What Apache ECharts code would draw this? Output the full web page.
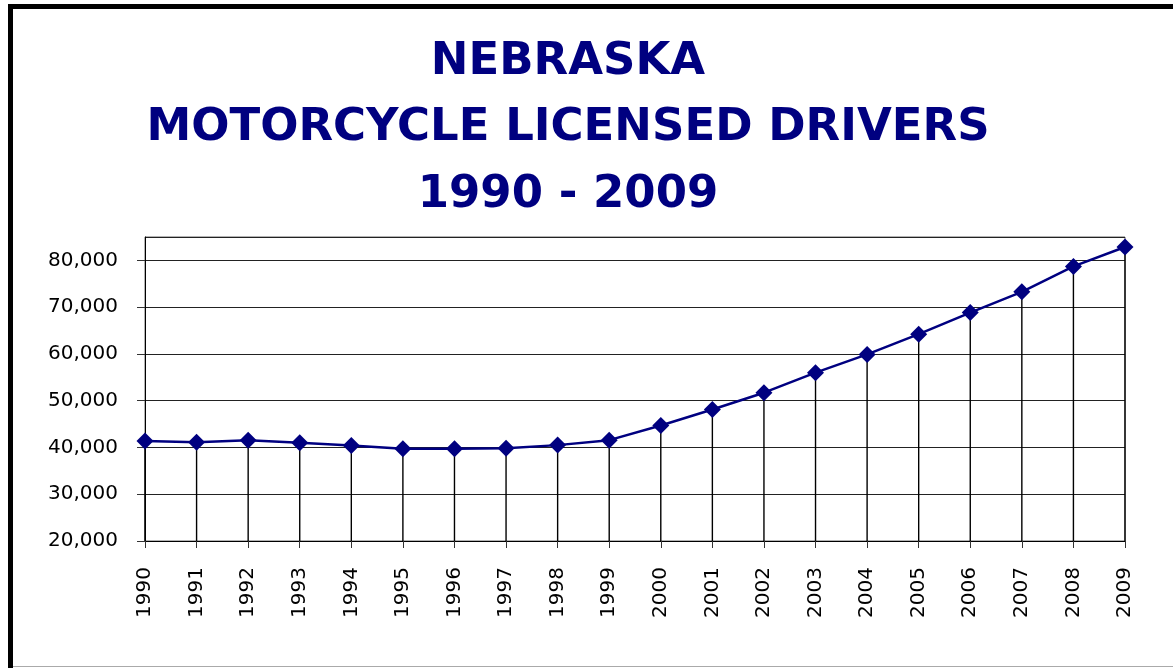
<!DOCTYPE html>
<html>
<head>
<meta charset="utf-8">
<script src="https://cdn.jsdelivr.net/npm/echarts@6/dist/echarts.min.js"></script>
<style>
html,body{margin:0;padding:0;background:#fff;}
#chart{width:1173px;height:668px;}
</style>
</head>
<body>
<div id="chart"></div>
<script>
const titleLines = ['NEBRASKA', 'MOTORCYCLE LICENSED DRIVERS', '1990 - 2009'];
const years = ['1990','1991','1992','1993','1994','1995','1996','1997','1998','1999',
               '2000','2001','2002','2003','2004','2005','2006','2007','2008','2009'];
const drivers = [41400, 41130, 41560, 40990, 40430, 39700, 39720, 39850, 40500, 41560,
                 44700, 48130, 51710, 56000, 59900, 64220, 68840, 73280, 78710, 82870];
const yMin = 20000, yMax = 85000, yStep = 10000;

function fmt(v){ return String(v).replace(/\B(?=(\d{3})+(?!\d))/g, ','); }

const chart = echarts.init(document.getElementById('chart'), null, {renderer:'canvas'});
const titleFont = '"Comic Sans MS", "DejaVu Sans", sans-serif';
const titleY = [62, 128, 195];

chart.setOption({
  animation: false,
  backgroundColor: '#fff',
  graphic: [
    {type:'line', shape:{x1:10.5, y1:4, x2:10.5, y2:668}, style:{stroke:'#000', lineWidth:5}},
    {type:'line', shape:{x1:8, y1:6.5, x2:1173, y2:6.5}, style:{stroke:'#000', lineWidth:5}},
    {type:'line', shape:{x1:13, y1:666.5, x2:1173, y2:666.5}, style:{stroke:'#aaa', lineWidth:1}}
  ].concat(titleLines.map((t, i) => ({
    type:'text', x:568, y:titleY[i],
    style:{text:t, fill:'#000080', font:'bold 45px ' + titleFont, align:'center', verticalAlign:'middle'}
  }))),
  grid: {left:145, right:48, top:237, bottom:127, show:true, borderColor:'#666', borderWidth:1, backgroundColor:'#fff'},
  xAxis: {
    type:'category', data: years, boundaryGap:false,
    axisLine:{show:true, lineStyle:{color:'#000', width:1}},
    axisTick:{show:true, length:7, alignWithLabel:true, lineStyle:{color:'#333'}},
    axisLabel:{rotate:90, margin:26, color:'#000', fontFamily:'"DejaVu Sans", Verdana, sans-serif', fontSize:20, interval:0},
    splitLine:{show:false}
  },
  yAxis: {
    type:'value', min:yMin, max:yMax, interval:yStep,
    axisLine:{show:true, lineStyle:{color:'#000', width:1}},
    axisTick:{show:true, length:8, lineStyle:{color:'#333'}},
    axisLabel:{margin:27, color:'#000', fontFamily:'"DejaVu Sans", Verdana, sans-serif', fontSize:20,
               showMaxLabel:false, formatter:(v)=> v === yMax ? '' : fmt(v)},
    splitLine:{show:true, lineStyle:{color:'#222', width:1}}
  },
  series: [
    {
      type:'bar', data: drivers, barWidth:1.4, silent:true, z:1,
      itemStyle:{color:'#000'}
    },
    {
      type:'line', data: drivers, z:3,
      symbol:'diamond', symbolSize:17,
      lineStyle:{color:'#000080', width:2.5},
      itemStyle:{color:'#000080'}
    }
  ]
});
</script>
</body>
</html>
